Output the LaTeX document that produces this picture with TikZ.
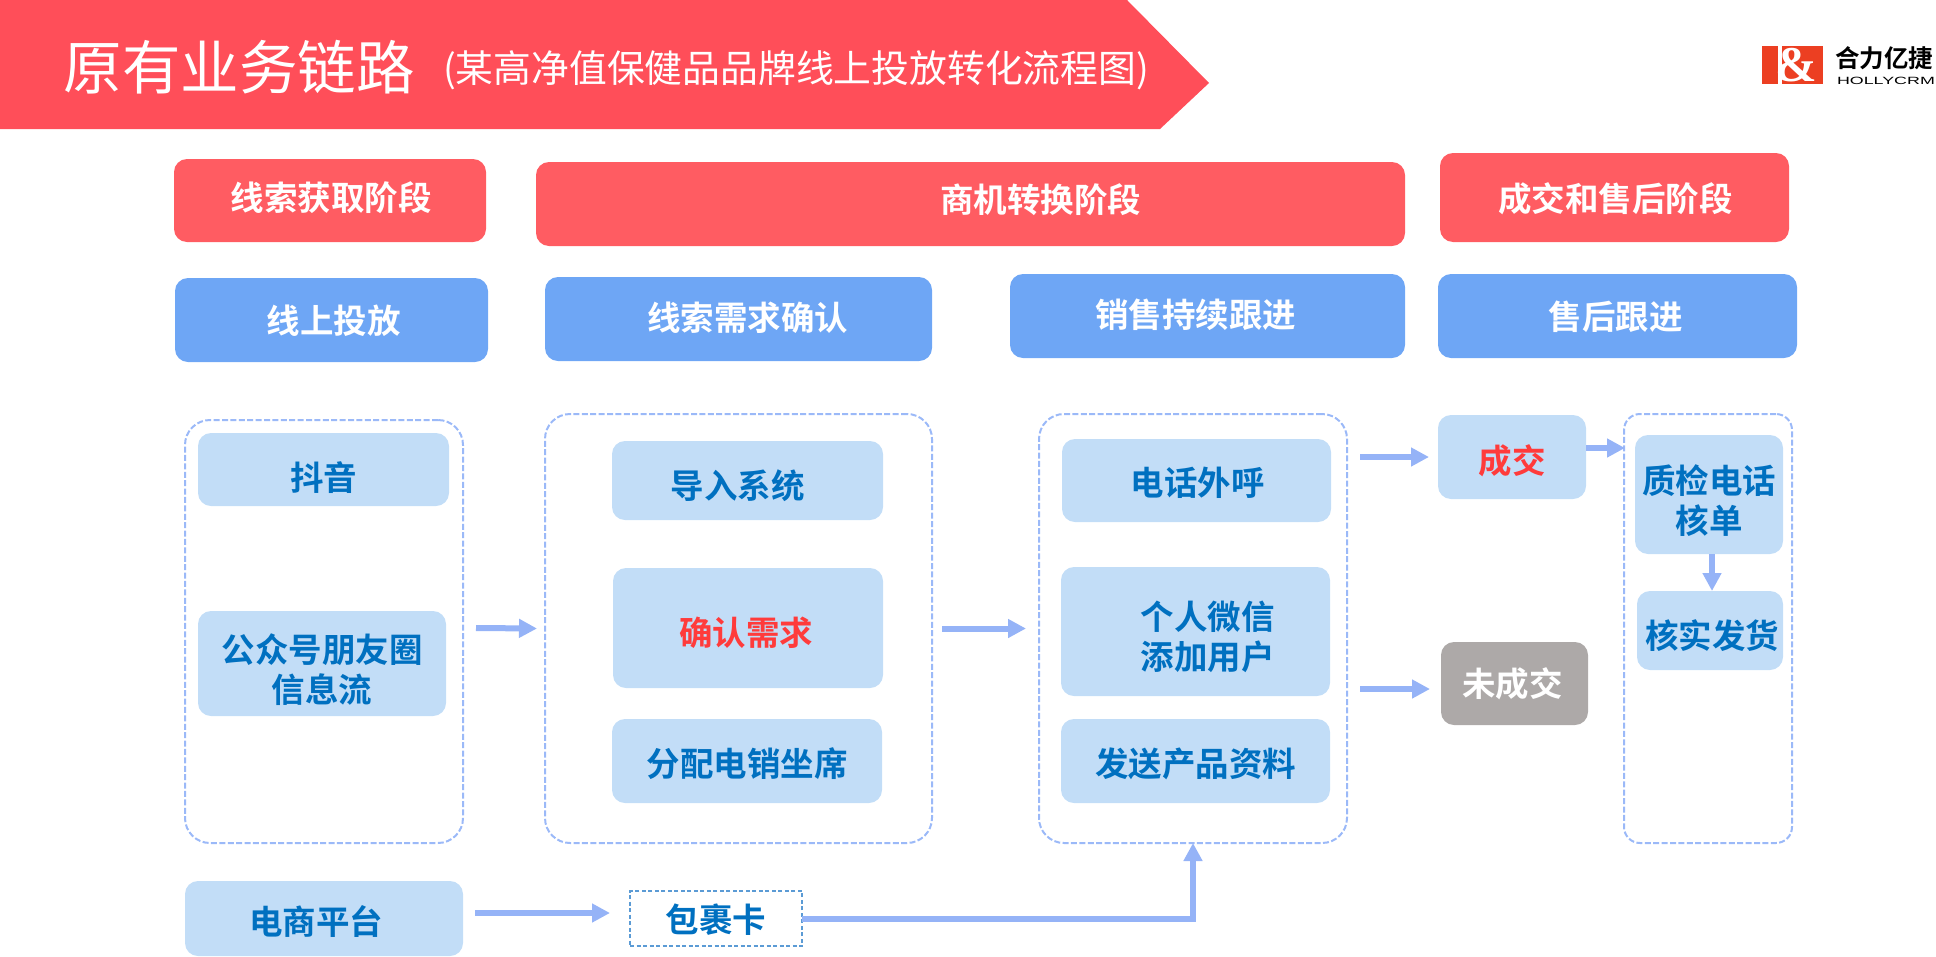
\documentclass[tikz,border=0pt]{standalone}
\usepackage{fontspec}
\usetikzlibrary{arrows.meta}
\setmainfont{Noto Sans CJK SC}
\newfontfamily\cjkbold{Noto Sans CJK SC Bold}
\newfontfamily\hfont[FakeStretch=1.7]{Liberation Sans}
\newfontfamily\amp{Liberation Serif}
\definecolor{banner}{HTML}{FF4E59}
\definecolor{hdrred}{HTML}{FF5C62}
\definecolor{hdrblue}{HTML}{6EA6F5}
\definecolor{lightb}{HTML}{C2DDF7}
\definecolor{dark}{HTML}{0070C0}
\definecolor{dashc}{HTML}{9BB9F8}
\definecolor{flowc}{HTML}{95B3F7}
\definecolor{greyb}{HTML}{ADA9A8}
\definecolor{redtxt}{HTML}{FF3B3B}
\definecolor{pkgc}{HTML}{5B9BD5}
\definecolor{logored}{HTML}{EC3F22}
\tikzset{
  base/.style={inner sep=0pt,outer sep=0pt,rounded corners=13pt},
  lbl/.style={font=\cjkbold\fontsize{33.5}{40}\selectfont,align=center,inner sep=0pt,outer sep=0pt},
  redbox/.style={base,fill=hdrred},
  redbox lbl/.style={lbl,text=white},
  bluebox/.style={base,fill=hdrblue},
  bluebox lbl/.style={lbl,text=white},
  lightbox/.style={base,fill=lightb},
  lightbox lbl/.style={lbl,text=dark},
  lightred/.style={base,fill=lightb},
  lightred lbl/.style={lbl,text=redtxt},
  greybox/.style={base,fill=greyb},
  greybox lbl/.style={lbl,text=white},
  group/.style={base,draw=dashc,line width=2pt,dash pattern=on 6pt off 2.4pt,rounded corners=25pt},
  group lbl/.style={lbl},
  groupsm/.style={group,rounded corners=16pt},
  groupsm lbl/.style={lbl},
  pkgbox/.style={base,draw=pkgc,line width=1.6pt,dash pattern=on 4pt off 2.5pt,rounded corners=0pt},
  pkgbox lbl/.style={lbl,text=dark},
  flow/.style={line width=6pt,draw=flowc,-{Triangle[length=18pt,width=18pt]}},
  bannerf/.style={fill=banner,draw=none},
  logotext/.style={inner sep=0pt,outer sep=0pt,text=black},
}
\newcommand{\bx}[9]{%
  \node[#2,minimum width={(#5-#3)*1pt},minimum height={(#6-#4)*1pt},
    label={[#2 lbl,xshift=#7pt,yshift=-#8pt]center:{#9}}] (#1) at ({(#3+#5)/2},{(#4+#6)/2}) {};}
\begin{document}
\begin{tikzpicture}[x=1pt,y=-1pt]
\useasboundingbox (0,0) rectangle (1936,956);
% title banner
\fill[bannerf] (0,0) -- (1127,0) -- (1209,83) -- (1160,129) -- (0,129) -- cycle;
\node[text=white,inner sep=0pt,font=\fontsize{58.5}{60}\selectfont] (title) at (239,67) {原有业务链路};
\node[text=white,inner sep=0pt,font=\fontsize{37.8}{44}\selectfont,anchor=west] (subtitle) at (443,70) {(某高净值保健品品牌线上投放转化流程图)};
% logo
\fill[logored] (1762,46) rectangle (1823,84);
\fill[white] (1778,46) rectangle (1782,84);
\node[text=white,inner sep=0pt,font=\amp\bfseries\fontsize{50}{50}\selectfont] (logoamp) at (1796,65) {\&};
\node[logotext,font=\cjkbold\fontsize{24.5}{26}\selectfont,anchor=west] (logocn) at (1835,58) {合力亿捷};
\node[logotext,font=\hfont\fontsize{10.5}{12}\selectfont,anchor=west] (logoen) at (1837,80.5) {HOLLYCRM};
% stage headers
\bx{s1}{redbox}{174}{159}{486}{242}{1}{-3}{线索获取阶段}
\bx{s2}{redbox}{536}{162}{1405}{246}{70}{-4}{商机转换阶段}
\bx{s3}{redbox}{1440}{153}{1789}{242}{1}{1}{成交和售后阶段}
\bx{h1}{bluebox}{175}{278}{488}{362}{2}{1}{线上投放}
\bx{h2}{bluebox}{545}{277}{932}{361}{9}{-1}{线索需求确认}
\bx{h3}{bluebox}{1010}{274}{1405}{358}{-12}{-1}{销售持续跟进}
\bx{h4}{bluebox}{1438}{274}{1797}{358}{-2}{1}{售后跟进}
% dashed groups
\bx{g1}{group}{185}{420}{463}{843}{0}{0}{}
\bx{g2}{group}{545}{414}{932}{843}{0}{0}{}
\bx{g3}{group}{1039}{414}{1347}{843}{0}{0}{}
\bx{g4}{groupsm}{1624}{414}{1792}{843}{0}{0}{}
% items
\bx{dy}{lightbox}{198}{433}{449}{506}{0}{8}{抖音}
\bx{gz}{lightbox}{198}{611}{446}{716}{0}{6}{公众号朋友圈\\信息流}
\bx{dr}{lightbox}{612}{441}{883}{520}{-10}{5}{导入系统}
\bx{qr}{lightred}{613}{568}{883}{688}{-2}{5}{确认需求}
\bx{fp}{lightbox}{612}{719}{882}{803}{0}{3}{分配电销坐席}
\bx{dh}{lightbox}{1062}{439}{1331}{522}{1}{2}{电话外呼}
\bx{wx}{lightbox}{1061}{567}{1330}{696}{12}{5}{个人微信\\添加用户}
\bx{fs}{lightbox}{1061}{719}{1330}{803}{0}{3}{发送产品资料}
\bx{deal}{lightred}{1438}{415}{1586}{499}{0}{4}{成交}
\bx{nodeal}{greybox}{1441}{642}{1588}{725}{-2}{0}{未成交}
\bx{chk}{lightbox}{1635}{435}{1783}{554}{0}{6}{质检电话\\核单}
\bx{ver}{lightbox}{1637}{591}{1783}{670}{2}{5}{核实发货}
\bx{ec}{lightbox}{185}{881}{463}{956}{-8}{3}{电商平台}
\bx{pkg}{pkgbox}{630}{891}{802}{946}{0}{1}{包裹卡}
% connectors
\coordinate (o1) at (1360,457);
\coordinate (o2) at (1360,689);
\coordinate (i4) at (1625,448);
\draw[flow] ([xshift=13pt,yshift=3.5pt]g1.east) -- ([xshift=-8pt]g2.west);
\draw[flow] ([xshift=10pt]g2.east) -- ([xshift=-13pt]g3.west);
\draw[flow] (o1) -- ([xshift=-9pt]deal.west);
\draw[flow] (o2) -- ([xshift=-11pt,yshift=-5.5pt]nodeal.west);
\draw[flow] ([yshift=9pt]deal.east) -- (i4);
\draw[flow] ([xshift=3pt]chk.south) -- ([xshift=2pt]ver.north);
\draw[flow] ([xshift=12pt,yshift=5.5pt]ec.east) -- ([xshift=-20pt,yshift=5.5pt]pkg.west);
\draw[flow] (pkg.east) -| (g3.south);
\end{tikzpicture}
\end{document}
